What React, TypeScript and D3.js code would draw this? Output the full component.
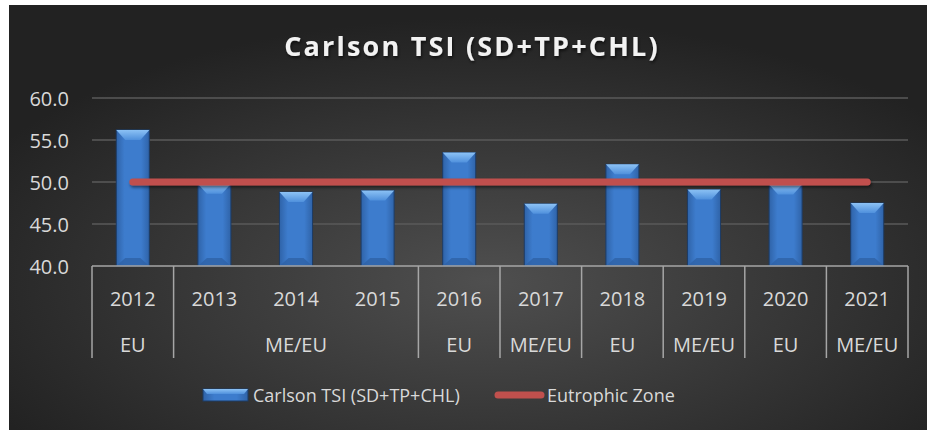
import * as d3 from "d3";

const years = ["2012", "2013", "2014", "2015", "2016", "2017", "2018", "2019", "2020", "2021"];
const zones = ["EU", "ME/EU", "ME/EU", "ME/EU", "EU", "ME/EU", "EU", "ME/EU", "EU", "ME/EU"];
const tsiValues = [56.2, 49.8, 48.8, 49.0, 53.5, 47.4, 52.1, 49.1, 49.7, 47.5];
const eutrophicZone = [50, 50, 50, 50, 50, 50, 50, 50, 50, 50];
const yTicks = [40, 45, 50, 55, 60];

const W = 927;
const H = 432;
const FONT = "'Open Sans', 'Noto Sans', sans-serif";

export default function App() {
    const margin = {left: 92, right: 19, top: 98, bottom: 166};
    const x = d3.scaleBand<string>().domain(years).range([margin.left, W - margin.right]).padding(0);
    const y = d3.scaleLinear().domain([40, 60]).range([H - margin.bottom, margin.top]);
    const barW = x.bandwidth() * 0.405;
    const y0 = y(40);

    // merge consecutive identical zone labels into groups
    const groups: {label: string, start: number, end: number}[] = [];
    zones.forEach((z, i) => {
        const last = groups[groups.length - 1];
        if (last && last.label === z) last.end = i;
        else groups.push({label: z, start: i, end: i});
    });
    const bounds = [margin.left, ...groups.map(g => x(years[g.end])! + x.bandwidth())];

    const line = d3.line<number>()
        .x((_, i) => x(years[i])! + x.bandwidth() / 2)
        .y(d => y(d));

    return (
        <svg width={W} height={H} style={{position: "absolute", left: 0, top: 0}}>
            <defs>
                <radialGradient id="bg" cx="52%" cy="65%" r="62%">
                    <stop offset="0%" stopColor="#4f4f4f"/>
                    <stop offset="100%" stopColor="#222222"/>
                </radialGradient>
                <linearGradient id="barBody" x1="0" x2="1" y1="0" y2="0">
                    <stop offset="0%" stopColor="#2f63a8"/>
                    <stop offset="25%" stopColor="#3d7ccd"/>
                    <stop offset="75%" stopColor="#3d7ccd"/>
                    <stop offset="100%" stopColor="#2f63a8"/>
                </linearGradient>
                <linearGradient id="bevelTop" x1="0" x2="0" y1="0" y2="1">
                    <stop offset="0%" stopColor="#8cc2f5"/>
                    <stop offset="100%" stopColor="#4f90dc"/>
                </linearGradient>
                <filter id="shadow" x="-10%" y="-30%" width="130%" height="180%">
                    <feDropShadow dx="1" dy="2" stdDeviation="1.5" floodColor="#000" floodOpacity="0.6"/>
                </filter>
                <filter id="lineShadow" filterUnits="userSpaceOnUse" x={0} y={0} width={W} height={H}>
                    <feDropShadow dx="1" dy="2" stdDeviation="1.5" floodColor="#000" floodOpacity="0.5"/>
                </filter>
            </defs>
            <rect x={0} y={0} width={W} height={H} fill="#ffffff"/>
            <rect x={9} y={5} width={W - 9} height={425} fill="url(#bg)"/>

            <text x={472} y={45} textAnchor="middle" dominantBaseline="central" fill="#f2f2f2"
                  fontFamily={FONT} fontSize={27} fontWeight={700} letterSpacing={2.2}
                  filter="url(#shadow)">Carlson TSI (SD+TP+CHL)</text>

            {yTicks.map(t => (
                <g key={t}>
                    {t > 40 && <line x1={margin.left} x2={W - margin.right} y1={y(t)} y2={y(t)}
                                     stroke="#5a5a5a" strokeWidth={1.5}/>}
                    <text x={69} y={y(t)} textAnchor="end" dominantBaseline="central" fill="#d9d9d9"
                          fontFamily={FONT} fontSize={20}>{t.toFixed(1)}</text>
                </g>
            ))}

            {tsiValues.map((v, i) => {
                const bx = x(years[i])! + (x.bandwidth() - barW) / 2;
                const by = y(v);
                const bh = y0 - by;
                const bev = Math.min(10, bh / 2);
                return (
                    <g key={years[i]}>
                        <rect x={bx} y={by} width={barW} height={bh} fill="url(#barBody)"
                              stroke="#1d3c66" strokeWidth={1}/>
                        <polygon points={`${bx},${by} ${bx + barW},${by} ${bx + barW - 9},${by + bev} ${bx + 9},${by + bev}`}
                                 fill="url(#bevelTop)"/>
                        <polygon points={`${bx},${y0} ${bx + barW},${y0} ${bx + barW - 9},${y0 - 8} ${bx + 9},${y0 - 8}`}
                                 fill="#2e62a6" opacity={0.8}/>
                    </g>
                );
            })}

            <path d={line(eutrophicZone)!} fill="none" stroke="#c0504d" strokeWidth={7}
                  strokeLinecap="round" filter="url(#lineShadow)"/>

            <line x1={margin.left} x2={W - margin.right} y1={y0} y2={y0} stroke="#a6a6a6" strokeWidth={1.5}/>
            {bounds.map((b, i) => (
                <line key={i} x1={b} x2={b} y1={y0} y2={358} stroke="#a6a6a6" strokeWidth={1.5}/>
            ))}
            {years.map(yr => (
                <text key={yr} x={x(yr)! + x.bandwidth() / 2} y={298} textAnchor="middle" dominantBaseline="central"
                      fill="#d9d9d9" fontFamily={FONT} fontSize={20}>{yr}</text>
            ))}
            {groups.map((g, i) => (
                <text key={i} x={(x(years[g.start])! + x(years[g.end])! + x.bandwidth()) / 2} y={344}
                      textAnchor="middle" dominantBaseline="central" fill="#d9d9d9"
                      fontFamily={FONT} fontSize={20}>{g.label}</text>
            ))}

            <g>
                <rect x={203} y={389} width={45} height={12} fill="url(#barBody)" stroke="#1d3c66"/>
                <polygon points="203,389 248,389 244,394 207,394" fill="url(#bevelTop)"/>
                <text x={253} y={395} dominantBaseline="central" fill="#d9d9d9" fontFamily={FONT}
                      fontSize={18}>Carlson TSI (SD+TP+CHL)</text>
                <line x1={498} x2={541} y1={395} y2={395} stroke="#c0504d" strokeWidth={7} strokeLinecap="round"/>
                <text x={547} y={395} dominantBaseline="central" fill="#d9d9d9" fontFamily={FONT}
                      fontSize={18}>Eutrophic Zone</text>
            </g>
        </svg>
    );
}
